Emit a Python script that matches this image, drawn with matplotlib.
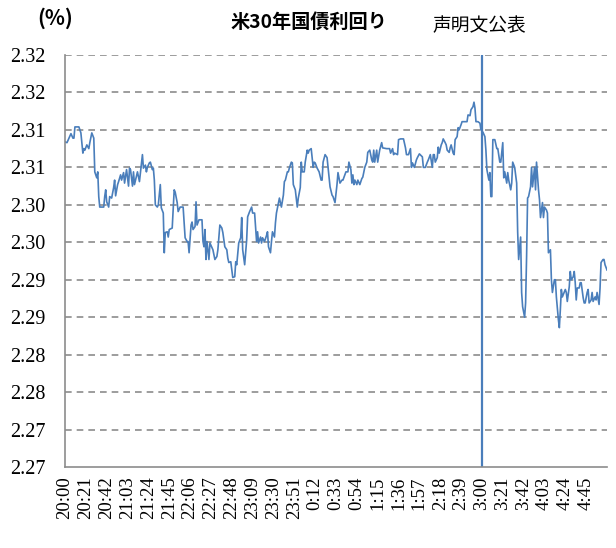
import numpy as np
import matplotlib
matplotlib.use("Agg")
import matplotlib.pyplot as plt

# minutes after 20:00 and 30y yield (%)
minutes = [0, 2, 4, 6, 8, 9, 10, 14, 16, 18, 19, 20, 22, 24, 25, 27, 29, 30, 32, 33,
           34, 35, 39, 40, 41, 42, 44, 45, 47, 49, 50, 51, 53, 54, 56, 57, 59, 60, 62, 64,
           65, 66, 68, 69, 70, 73, 75, 76, 78, 79, 81, 82, 83, 85, 86, 88, 89, 90, 91, 93,
           94, 96, 97, 99, 100, 101, 103, 104, 105, 108, 110, 111, 113, 114, 116, 119, 121, 123, 124, 125,
           127, 128, 129, 131, 132, 133, 135, 138, 139, 140, 141, 142, 143, 145, 146, 148, 149, 151, 153, 154,
           156, 158, 159, 161, 163, 164, 165, 167, 168, 169, 171, 172, 173, 175, 177, 178, 179, 181, 183, 184,
           186, 188, 189, 191, 193, 194, 195, 197, 198, 199, 201, 203, 204, 205, 207, 208, 209, 211, 212, 213,
           216, 217, 218, 220, 221, 222, 224, 225, 226, 228, 229, 230, 232, 234, 235, 237, 238, 239, 241, 242,
           244, 245, 246, 248, 250, 251, 252, 254, 256, 258, 259, 260, 262, 264, 265, 267, 269, 270, 272, 274,
           275, 277, 279, 280, 283, 285, 286, 288, 289, 290, 291, 292, 294, 295, 297, 299, 300, 302, 304, 305,
           307, 309, 310, 311, 312, 314, 315, 317, 319, 320, 324, 327, 328, 330, 331, 332, 335, 336, 338, 341,
           343, 344, 346, 348, 349, 350, 352, 354, 355, 357, 360, 361, 363, 365, 366, 368, 370, 371, 372, 373,
           375, 376, 377, 379, 380, 381, 383, 384, 385, 387, 388, 389, 391, 392, 393, 395, 396, 397, 399, 400,
           403, 405, 406, 408, 409, 411, 412, 413, 414, 416, 418, 419, 421, 423, 424, 425, 427, 428, 429, 430,
           431, 433, 435, 436, 438, 439, 441, 442, 443, 445, 446, 447, 449, 450, 451, 453, 455, 456, 457, 459,
           460, 461, 463, 464, 465, 466, 467, 469, 470, 471, 473, 474, 475, 477, 478, 479, 481, 482, 483, 485,
           486, 487, 489, 490, 491, 493, 494, 495, 497, 498, 499, 500, 501, 504, 505, 506, 508, 509, 510, 512,
           513, 514, 515, 516, 518, 519, 520, 522, 523, 524, 526, 527, 528, 530, 531, 532, 534, 535, 536, 538,
           539, 540, 542, 543, 544, 546]
yields = [2.3134, 2.3133, 2.3139, 2.3145, 2.3139, 2.3139, 2.3154, 2.3154, 2.3146, 2.3119,
          2.3125, 2.3123, 2.3130, 2.3125, 2.3133, 2.3146, 2.3139, 2.3094, 2.3086, 2.3094,
          2.3061, 2.3047, 2.3047, 2.3061, 2.3070, 2.3054, 2.3047, 2.3061, 2.3059, 2.3073,
          2.3083, 2.3062, 2.3077, 2.3081, 2.3090, 2.3083, 2.3093, 2.3079, 2.3097, 2.3075,
          2.3099, 2.3097, 2.3075, 2.3094, 2.3077, 2.3094, 2.3081, 2.3093, 2.3117, 2.3099,
          2.3103, 2.3094, 2.3100, 2.3106, 2.3107, 2.3097, 2.3099, 2.3083, 2.3050, 2.3047,
          2.3050, 2.3077, 2.3046, 2.3039, 2.2986, 2.3013, 2.3014, 2.3007, 2.3017, 2.3019,
          2.3070, 2.3067, 2.3053, 2.3041, 2.3047, 2.3047, 2.3006, 2.3001, 2.3001, 2.2986,
          2.3023, 2.3027, 2.3017, 2.3021, 2.3054, 2.3023, 2.3030, 2.3030, 2.3001, 2.2994,
          2.3017, 2.2977, 2.3001, 2.2977, 2.2999, 2.2993, 2.2990, 2.2977, 2.2981, 2.2990,
          2.3023, 2.3019, 2.3013, 2.2994, 2.2990, 2.2979, 2.2973, 2.2974, 2.2963, 2.2953,
          2.2954, 2.2974, 2.2970, 2.2999, 2.3006, 2.3033, 2.2990, 2.2970, 2.3003, 2.3034,
          2.3041, 2.3047, 2.3039, 2.3039, 2.3001, 2.3014, 2.2999, 2.3007, 2.2999, 2.3006,
          2.3001, 2.3009, 2.3014, 2.2994, 2.2986, 2.3001, 2.3014, 2.3007, 2.3026, 2.3039,
          2.3059, 2.3053, 2.3047, 2.3063, 2.3081, 2.3083, 2.3094, 2.3094, 2.3099, 2.3107,
          2.3106, 2.3077, 2.3070, 2.3047, 2.3059, 2.3073, 2.3107, 2.3094, 2.3094, 2.3107,
          2.3123, 2.3119, 2.3123, 2.3125, 2.3100, 2.3107, 2.3106, 2.3099, 2.3094, 2.3083,
          2.3083, 2.3107, 2.3117, 2.3113, 2.3100, 2.3074, 2.3063, 2.3061, 2.3053, 2.3077,
          2.3093, 2.3079, 2.3083, 2.3083, 2.3094, 2.3094, 2.3107, 2.3097, 2.3079, 2.3090,
          2.3077, 2.3083, 2.3077, 2.3083, 2.3077, 2.3085, 2.3087, 2.3100, 2.3107, 2.3120,
          2.3123, 2.3110, 2.3107, 2.3123, 2.3107, 2.3123, 2.3107, 2.3123, 2.3133, 2.3126,
          2.3125, 2.3125, 2.3119, 2.3125, 2.3117, 2.3119, 2.3117, 2.3137, 2.3138, 2.3138,
          2.3126, 2.3117, 2.3117, 2.3125, 2.3100, 2.3106, 2.3100, 2.3110, 2.3113, 2.3118,
          2.3114, 2.3100, 2.3100, 2.3107, 2.3110, 2.3117, 2.3100, 2.3117, 2.3117, 2.3107,
          2.3113, 2.3127, 2.3119, 2.3130, 2.3133, 2.3138, 2.3133, 2.3130, 2.3123, 2.3120,
          2.3126, 2.3130, 2.3119, 2.3117, 2.3137, 2.3141, 2.3153, 2.3150, 2.3157, 2.3161,
          2.3161, 2.3161, 2.3170, 2.3169, 2.3177, 2.3181, 2.3187, 2.3179, 2.3161, 2.3161,
          2.3159, 2.3150, 2.3147, 2.3141, 2.3123, 2.3097, 2.3083, 2.3093, 2.3061, 2.3061,
          2.3137, 2.3137, 2.3125, 2.3125, 2.3107, 2.3107, 2.3133, 2.3086, 2.3094, 2.3079,
          2.3093, 2.3083, 2.3070, 2.3079, 2.3107, 2.3100, 2.3079, 2.3014, 2.2977, 2.3007,
          2.2933, 2.2914, 2.2900, 2.2919, 2.2981, 2.3059, 2.3061, 2.3074, 2.3100, 2.3074,
          2.3100, 2.3070, 2.3107, 2.3070, 2.3057, 2.3033, 2.3053, 2.3033, 2.3047, 2.3043,
          2.3039, 2.2986, 2.2990, 2.2950, 2.2933, 2.2950, 2.2950, 2.2927, 2.2897, 2.2886,
          2.2910, 2.2937, 2.2927, 2.2937, 2.2933, 2.2921, 2.2941, 2.2961, 2.2950, 2.2954,
          2.2961, 2.2946, 2.2923, 2.2939, 2.2939, 2.2946, 2.2946, 2.2926, 2.2919, 2.2919,
          2.2933, 2.2937, 2.2919, 2.2923, 2.2933, 2.2921, 2.2927, 2.2923, 2.2933, 2.2917,
          2.2939, 2.2973, 2.2977, 2.2977, 2.2970, 2.2963]

announce_minute = 420  # 3:00 statement release
time_labels = ["20:00", "20:21", "20:42", "21:03", "21:24", "21:45", "22:06", "22:27",
               "22:48", "23:09", "23:30", "23:51", "0:12", "0:33", "0:54", "1:15",
               "1:36", "1:57", "2:18", "2:39", "3:00", "3:21", "3:42", "4:03",
               "4:24", "4:45"]
y_ticks = [2.270, 2.275, 2.280, 2.285, 2.290, 2.295, 2.300, 2.305, 2.310, 2.315, 2.320, 2.325]
y_labels = ["2.27", "2.27", "2.28", "2.28", "2.29", "2.29", "2.30", "2.30",
            "2.31", "2.31", "2.32", "2.32"]

line_color = "#4a7ebb"
grid_color = "#8c8c8c"
jp_font = ["Noto Sans CJK JP", "DejaVu Sans"]
num_font = ["Liberation Serif", "DejaVu Serif"]

fig = plt.figure(figsize=(6.16, 5.48), dpi=100)
ax = fig.add_axes([65 / 616, 1 - 467 / 548, 542 / 616, 412 / 548])

ax.plot(minutes, yields, color=line_color, linewidth=1.2)
ax.vlines(announce_minute, y_ticks[0], y_ticks[-1], color=line_color, linewidth=1.6)

ax.set_xlim(0, 546)
ax.set_ylim(y_ticks[0], y_ticks[-1])

ax.set_yticks(y_ticks)
ax.set_yticklabels(y_labels, family=num_font, fontsize=14.5)
tick_pos = np.arange(len(time_labels)) * 21
ax.set_xticks(tick_pos)
ax.set_xticklabels(time_labels, rotation=90, family=num_font, fontsize=13.5)
ax.tick_params(axis="both", length=0)
ax.tick_params(axis="y", pad=14)
ax.tick_params(axis="x", pad=7)

for t in y_ticks[1:]:
    ax.axhline(t, color=grid_color, linewidth=1.2, linestyle=(0, (4, 3)), zorder=0)

for side in ["top", "right"]:
    ax.spines[side].set_visible(False)
for side in ["left", "bottom"]:
    ax.spines[side].set_color(grid_color)
    ax.spines[side].set_linewidth(1.2)

fig.text(309 / 616, 1 - 22 / 548, "米30年国債利回り", family=jp_font, fontweight="bold",
         fontsize=13.8, ha="center", va="center")
fig.text(479 / 616, 1 - 26 / 548, "声明文公表", family=jp_font, fontsize=13.5,
         ha="center", va="center")
fig.text(55 / 616, 1 - 18 / 548, "(%)", family=jp_font, fontweight="bold",
         fontsize=15, ha="center", va="center")

fig.savefig("out.png", dpi=100)
